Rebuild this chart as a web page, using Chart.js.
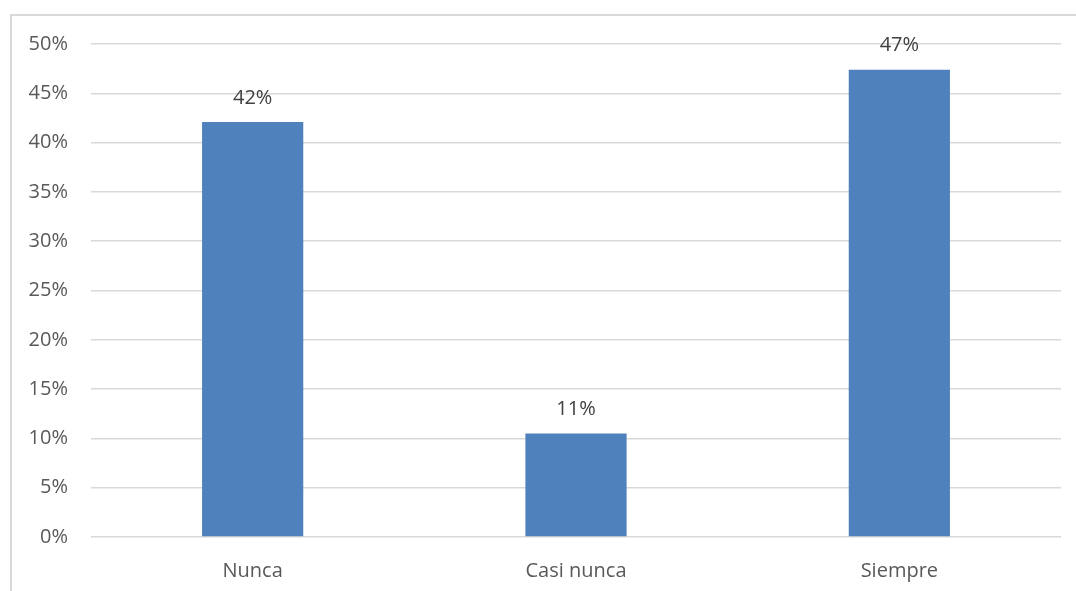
<!DOCTYPE html>
<html>
<head>
<meta charset="utf-8">
<script src="https://cdn.jsdelivr.net/npm/chart.js@4.4.1/dist/chart.umd.min.js"></script>
<style>
  html, body { margin: 0; padding: 0; background: #fff; overflow: hidden; }
  #frame {
    position: absolute; left: 10px; top: 14px;
    width: 1100px; height: 600px;
    border: 2px solid #d9d9d9; box-sizing: border-box;
  }
  #wrap { position: absolute; left: 0; top: 0; width: 1076px; height: 591px; }
</style>
</head>
<body>
<div id="frame"></div>
<div id="wrap"><canvas id="newChart"></canvas></div>
<script>
const categories = ["Nunca", "Casi nunca", "Siempre"];
const values = [42.1, 10.5, 47.4];
const yMax = 50;
const yStep = 5;

let ctx = document.getElementById("newChart");

// labels on top of the bars
const barLabels = {
    id: "barLabels",
    afterDatasetsDraw(chart) {
        const c = chart.ctx;
        const meta = chart.getDatasetMeta(0);
        c.save();
        c.font = "20px 'Open Sans'";
        c.fillStyle = "#404040";
        c.textAlign = "center";
        c.textBaseline = "middle";
        meta.data.forEach((bar, i) => {
            c.fillText(Math.round(values[i]) + "%", bar.x, bar.y - 24);
        });
        c.restore();
    },
};

const displayChart = new Chart(ctx, {
    type: "bar",
    data: {
        labels: categories,
        datasets: [
            {
                data: values,
                backgroundColor: "#4f81bd",
                barPercentage: 0.313,
                categoryPercentage: 1,
            },
        ],
    },
    options: {
        responsive: true,
        maintainAspectRatio: false,
        animation: false,
        layout: { padding: { top: 44, right: 15, bottom: 0, left: 0 } },
        scales: {
            x: {
                grid: { display: false },
                border: { display: false },
                ticks: { color: "#595959", font: { family: "'Open Sans'", size: 20 }, padding: 14 },
                afterFit: (scale) => { scale.height = 54; },
            },
            y: {
                min: 0,
                max: yMax,
                ticks: {
                    stepSize: yStep,
                    color: "#595959",
                    font: { family: "'Open Sans'", size: 20 },
                    padding: 23,
                    callback: (v) => v + "%",
                },
                grid: { color: "#d9d9d9", lineWidth: 1.5, drawTicks: false },
                border: { display: false },
                afterFit: (scale) => { scale.width = 91; },
            },
        },
        plugins: {
            legend: { display: false },
            tooltip: { enabled: false },
        },
    },
    plugins: [barLabels],
});
</script>
</body>
</html>
